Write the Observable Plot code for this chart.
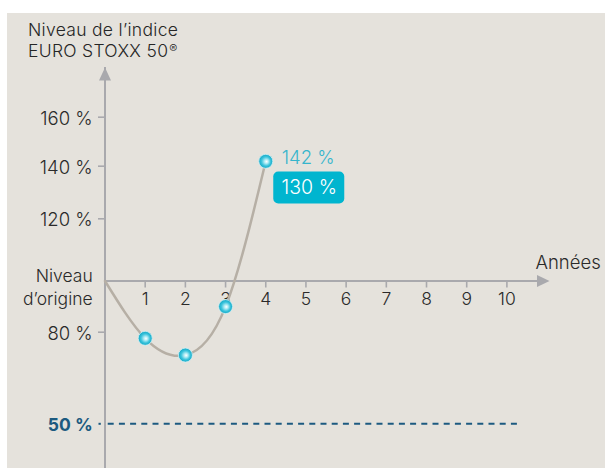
<!DOCTYPE html>
<html><head><meta charset="utf-8">
<script src="https://cdn.jsdelivr.net/npm/d3@7"></script>
<script src="https://cdn.jsdelivr.net/npm/@observablehq/plot@0.6"></script>
<style>
body{margin:0;background:#fff;}
#wrap{position:relative;width:605px;height:468px;overflow:hidden;}
#bg{position:absolute;left:7px;top:13px;right:0;bottom:0;background:#e5e2dc;}
#title{position:absolute;left:28px;top:19px;font-family:Inter;font-weight:300;font-size:17.5px;letter-spacing:0.3px;color:#262626;line-height:21px;white-space:nowrap;}
#title sup{font-size:12px;line-height:10px;vertical-align:4px;letter-spacing:0;margin-left:1px;}
#chart{position:absolute;left:0;top:0;}
</style></head><body>
<div id="wrap"><div id="bg"></div><div id="title"></div><div id="chart"></div></div>
<script>
// ---- data ----
const titleLines = ["Niveau de l’indice", "EURO STOXX 50"];
const titleMark = "®";
const xLabel = "Années";
const curveYears = [0, 1, 2, 3, 4];
const curveLevels = [100, 78, 72.5, 90, 142];
const obsYears = [1, 2, 3, 4];
const obsLevels = [78, 72.5, 90, 142];
const xTicks = [1, 2, 3, 4, 5, 6, 7, 8, 9, 10];
const yTicks = [80, 120, 140, 160];
const originLevel = 100;
const originLabel = "Niveau\nd’origine";
const barrier = 50;
const finalYear = 4;
const finalLevel = 142;
const payout = 130;

// ---- style ----
const axisColor = "#a9a9ad";
const textColor = "#2a2a2a";
const cyan = "#00b5cf";
const blue = "#1c5a80";
const font = "Inter";

document.getElementById("title").innerHTML =
  titleLines[0] + "<br>" + titleLines[1] + "<sup>" + titleMark + "</sup>";

const obs = obsYears.map((x, i) => ({x, y: obsLevels[i]}));
const curve = curveYears.map((x, i) => ({x, y: curveLevels[i]}));

const triUp = {draw(c) { c.moveTo(0, 0); c.lineTo(-6, 13); c.lineTo(6, 13); c.closePath(); }};
const triRight = {draw(c) { c.moveTo(0, 0); c.lineTo(-12.5, -6); c.lineTo(-12.5, 6); c.closePath(); }};
const tickDown = {draw(c) { c.moveTo(0, 0); c.lineTo(0, 6.5); }};
const tickLeft = {draw(c) { c.moveTo(0, 0); c.lineTo(-7, 0); }};
const barrierTick = {draw(c) { c.moveTo(-6.5, 0); c.lineTo(-4.2, 0); }};

const defsMark = () => {
  const defs = d3.create("svg:defs");
  const g = defs.append("radialGradient").attr("id", "ball")
    .attr("cx", "0.5").attr("cy", "0.5").attr("r", "0.5").attr("fx", "0.56").attr("fy", "0.52");
  [["0%", "#ffffff"], ["28%", "#b0ebf4"], ["64%", "#3cc4dc"], ["100%", "#10a7c5"]]
    .forEach(([o, c]) => g.append("stop").attr("offset", o).attr("stop-color", c));
  return defs.node();
};

const xTop = 11.06, yBottom = 35, yTop = 180;

const chart = Plot.plot({
  width: 605,
  height: 468,
  margin: 0,
  style: {fontFamily: font, background: "transparent", overflow: "visible"},
  x: {type: "linear", domain: [0, xTop], range: [104.5, 549], axis: null},
  y: {type: "linear",
      domain: [yBottom, 50, 80, 100, 120, 140, 160, yTop],
      range: [468, 423.3, 331.7, 280.5, 218.3, 165.7, 116.7, 67], axis: null},
  marks: [
    defsMark,
    // barrier
    Plot.ruleY([barrier], {y: d => d, x1: 0, x2: 10.35, insetLeft: 3.2, stroke: blue, strokeWidth: 2, strokeDasharray: "6,5.2"}),
    Plot.dot([barrier], {x: 0, y: d => d, symbol: barrierTick, r: 3, stroke: blue, strokeWidth: 2, fill: "none"}),
    Plot.text([barrier], {x: 0, y: d => d, dx: -12.3, dy: 1.5, text: d => `${d} %`, textAnchor: "end", fill: blue, fontWeight: 700, fontSize: 17.5}),
    // axes
    Plot.ruleX([0], {x: d => d, y1: yBottom, y2: yTop, stroke: axisColor, strokeWidth: 2, insetTop: 6}),
    Plot.dot([0], {x: d => d, y: yTop, symbol: triUp, r: 6, fill: axisColor, stroke: "none"}),
    Plot.ruleY([originLevel], {y: d => d, x1: 0, x2: xTop, stroke: axisColor, strokeWidth: 2, insetRight: 6}),
    Plot.dot([originLevel], {x: xTop, y: d => d, symbol: triRight, r: 6, fill: axisColor, stroke: "none"}),
    Plot.dot(xTicks, {x: d => d, y: originLevel, symbol: tickDown, r: 3, stroke: axisColor, strokeWidth: 1.6, fill: "none"}),
    Plot.dot(yTicks, {x: 0, y: d => d, symbol: tickLeft, r: 3, stroke: axisColor, strokeWidth: 1.6, fill: "none"}),
    Plot.text(xTicks, {x: d => d, y: originLevel, dy: 18.7, text: d => String(d), fill: textColor, fontSize: 17.5, fontWeight: 300}),
    Plot.text(yTicks, {x: 0, y: d => d, dx: -12.3, dy: 1.7, text: d => `${d} %`, textAnchor: "end", fill: textColor, fontSize: 18.5, fontWeight: 300}),
    Plot.text([originLevel], {x: 0, y: d => d, dx: -12.3, dy: 5, text: () => originLabel, textAnchor: "end", lineHeight: 1.33, fill: textColor, fontSize: 17.5, fontWeight: 300, letterSpacing: 0.4}),
    Plot.text([xLabel], {x: xTop, y: originLevel, dx: -14, dy: -18.3, text: d => d, textAnchor: "start", fill: textColor, fontSize: 18.5, fontWeight: 300}),
    // index path
    Plot.line(curve, {x: "x", y: "y", curve: "natural", stroke: "#b6afa5", strokeWidth: 2.5}),
    Plot.dot(obs, {x: "x", y: "y", r: 7, fill: "url(#ball)", stroke: "#d6f1f5", strokeWidth: 0.8}),
    // labels
    Plot.text([finalLevel], {x: finalYear, y: d => d, dx: 16, dy: -3.5, text: d => `${d} %`, textAnchor: "start", fill: "#36b5cc", fontSize: 18.5, fontWeight: 300}),
    Plot.rect([payout], {x1: finalYear, x2: finalYear, y1: finalLevel, y2: finalLevel,
      insetLeft: 8, insetRight: -79, insetTop: 10.7, insetBottom: -42.7, rx: 5, fill: cyan}),
    Plot.text([payout], {x: finalYear, y: finalLevel, dx: 43.5, dy: 26, text: d => `${d} %`, fill: "#ffffff", fontSize: 19.5, fontWeight: 300})
  ]
});
document.getElementById("chart").appendChild(chart);
</script>
</body></html>
